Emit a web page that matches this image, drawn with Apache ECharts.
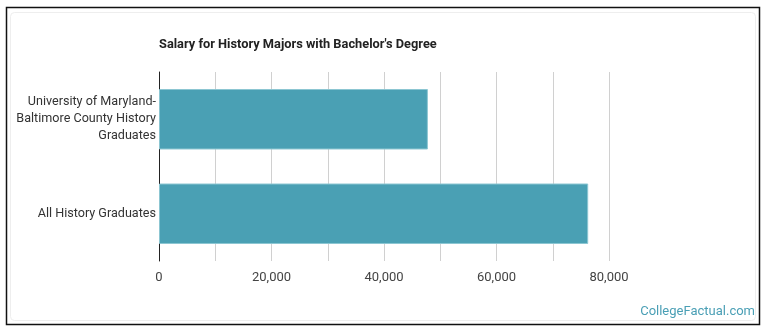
<!DOCTYPE html>
<html>
<head>
<meta charset="utf-8">
<script src="https://cdn.jsdelivr.net/npm/echarts@6/dist/echarts.min.js"></script>
<style>
html,body{margin:0;padding:0;background:#fff;}
#c{width:770px;height:335px;}
</style>
</head>
<body>
<div id="c"></div>
<script>
const categories = ["University of Maryland-\nBaltimore County History\nGraduates", "All History Graduates"];
const salaries = [47800, 76300];
const tickStep = 10000;
const labelStep = 20000;

const chart = echarts.init(document.getElementById('c'), null, {renderer: 'canvas'});
chart.setOption({
  animation: false,
  backgroundColor: '#fff',
  graphic: [
    {type: 'rect', shape: {x: 6.5, y: 7.5, width: 753, height: 317}, style: {fill: 'none', stroke: '#111', lineWidth: 1.5}},
    {type: 'rect', shape: {x: 10.5, y: 12.5, width: 745, height: 308, r: 4}, style: {fill: 'none', stroke: '#eee', lineWidth: 1}},
    {type: 'text', left: 159, top: 38, style: {text: "Salary for History Majors with Bachelor's Degree", font: 'bold 12.8px Roboto', fill: '#222'}},
    {type: 'text', right: 15, top: 305, style: {text: 'CollegeFactual.com', font: '13px Roboto', fill: '#4a9fb5'}}
  ],
  grid: {left: 159, right: 161, top: 72, bottom: 74, containLabel: false},
  xAxis: {
    type: 'value', min: 0, max: 80000, interval: tickStep,
    axisLine: {show: false}, axisTick: {show: false},
    splitLine: {show: true, lineStyle: {color: '#d0d0d0', width: 1}},
    axisLabel: {
      color: '#444', fontFamily: 'Roboto', fontSize: 13, margin: 10,
      formatter: v => (v % labelStep === 0 ? v.toLocaleString('en-US') : '')
    }
  },
  yAxis: {
    type: 'category', data: categories, inverse: true,
    axisLine: {show: true, lineStyle: {color: '#222', width: 1}},
    axisTick: {show: false},
    axisLabel: {color: '#333', fontFamily: 'Roboto', fontSize: 12.6, lineHeight: 17, align: 'right', margin: 3}
  },
  series: [{
    type: 'bar', data: salaries, barWidth: '64%',
    itemStyle: {color: '#4aa0b4', borderColor: '#8cc6d2', borderWidth: 1}
  }]
});
</script>
</body>
</html>
